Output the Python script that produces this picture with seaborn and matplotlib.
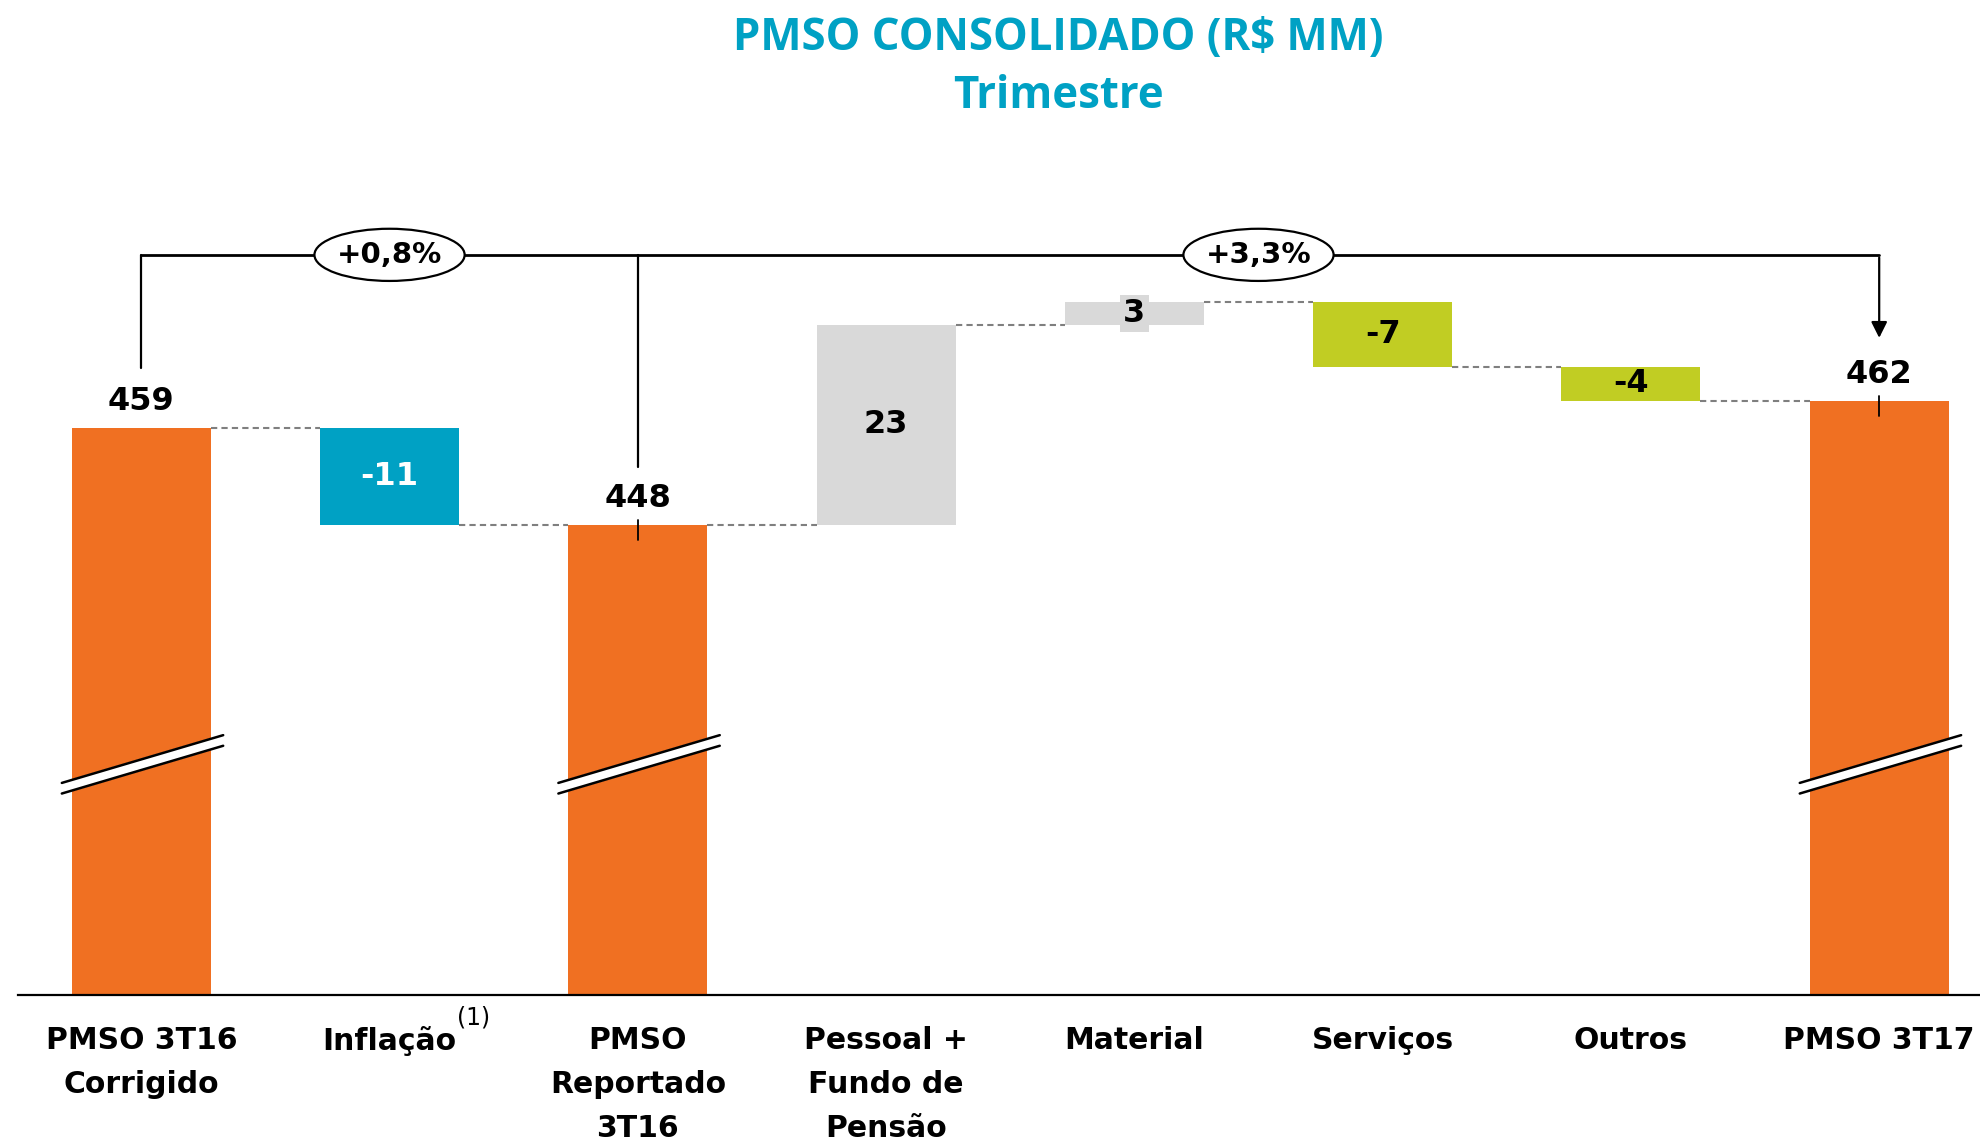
import pandas as pd
import matplotlib.pyplot as plt
import seaborn as sns
from matplotlib.patches import Ellipse

# data
steps = ["PMSO 3T16\nCorrigido", "Inflação", "PMSO\nReportado\n3T16", "Pessoal +\nFundo de\nPensão",
         "Material", "Serviços", "Outros", "PMSO 3T17"]
values = [459.3, -10.9, 448.4, 22.6, 2.6, -7.4, -3.8, 462.4]
is_total = [True, False, True, False, False, False, False, True]
kinds = ["total", "inflacao", "total", "pessoal", "pessoal", "servicos", "servicos", "total"]
value_labels = ["459", "-11", "448", "23", "3", "-7", "-4", "462"]
growth_labels = ["+0,8%", "+3,3%"]

palette = {"total": "#F07022", "inflacao": "#00A1C4", "pessoal": "#D9D9D9", "servicos": "#C1CD23"}

# waterfall levels
tops, bases, levels = [], [], []
level = 0
for v, t in zip(values, is_total):
    if t:
        bases.append(0)
        tops.append(v)
        level = v
    else:
        new = level + v
        bases.append(min(level, new))
        tops.append(max(level, new))
        level = new
    levels.append(level)

df = pd.DataFrame({"step": steps, "top": tops, "base": bases, "kind": kinds})

sns.set_style("white")
plt.rcParams["font.family"] = ["DejaVu Sans"]
plt.rcParams["text.color"] = "black"
plt.rcParams["xtick.color"] = "black"

fig = plt.figure(figsize=(19.8, 11.43), dpi=100)
ax = fig.add_axes([0.0089, 0.1293, 0.9911, 0.705])
w = 0.56

sns.barplot(data=df, x="step", y="top", hue="kind", palette=palette, dodge=False, width=w,
            saturation=1, linewidth=0, legend=False, order=steps, ax=ax)
sns.barplot(data=df, x="step", y="base", color="white", width=w, saturation=1, linewidth=0,
            order=steps, ax=ax)

ax.set_ylim(395.2, 486.3)
ax.set_xlim(-0.498, 7.406)
ax.set_xlabel("")
ax.set_ylabel("")
ax.set_yticks([])
for s in ["left", "right", "top"]:
    ax.spines[s].set_visible(False)
ax.spines["bottom"].set_color("black")
ax.spines["bottom"].set_linewidth(1.6)
ax.tick_params(axis="x", length=0, pad=22)
for lab in ax.get_xticklabels():
    lab.set_fontsize(21.5)
    lab.set_fontweight("bold")
    lab.set_linespacing(1.65)
ax.text(1.27, -0.028, "(1)", transform=ax.get_xaxis_transform(), fontsize=17,
        ha="left", va="center")

# connectors
for i in range(len(values) - 1):
    ax.plot([i + w / 2, i + 1 - w / 2], [levels[i], levels[i]], color="#7f7f7f",
            lw=1.5, ls=(0, (3, 2)))

# value labels
for i, (t, b, lab) in enumerate(zip(tops, bases, value_labels)):
    if is_total[i]:
        ax.text(i, t + 3, lab, ha="center", va="center", fontsize=23, fontweight="bold")
    elif kinds[i] == "inflacao":
        ax.text(i, (t + b) / 2, lab, ha="center", va="center", fontsize=23,
                fontweight="bold", color="white")
    elif kinds[i] == "pessoal" and t - b < 4:
        ax.text(i, (t + b) / 2, lab, ha="center", va="center", fontsize=23, fontweight="bold",
                bbox=dict(boxstyle="square,pad=0.1", fc="#D9D9D9", ec="none"))
    else:
        ax.text(i, (t + b) / 2, lab, ha="center", va="center", fontsize=23, fontweight="bold")

# break marks on total bars
for i in [0, 2, 7]:
    x0, x1 = i - 0.32, i + 0.33
    y0, rise, gap = 419.2, 5.4, 1.2
    ax.fill([x0, x1, x1, x0], [y0, y0 + rise, y0 + rise - gap, y0 - gap], color="white", zorder=3)
    ax.plot([x0, x1], [y0, y0 + rise], color="black", lw=1.8, zorder=4)
    ax.plot([x0, x1], [y0 - gap, y0 + rise - gap], color="black", lw=1.8, zorder=4)

# bracket
y_br = 478.9
ax.plot([0, 7], [y_br, y_br], color="black", lw=2)
ax.plot([0, 0], [y_br, tops[0] + 6.8], color="black", lw=1.6)
ax.plot([2, 2], [y_br, tops[2] + 6.5], color="black", lw=1.6)
ax.annotate("", xy=(7, tops[7] + 6.8), xytext=(7, y_br),
            arrowprops=dict(arrowstyle="-|>", color="black", lw=1.6, mutation_scale=24))
for i in [2, 7]:
    ax.plot([i, i], [tops[i] + 0.5, tops[i] - 1.7], color="black", lw=1.3, zorder=4)

for x, lab in zip([1, 4.5], growth_labels):
    ax.add_patch(Ellipse((x, y_br), 0.605, 5.9, fc="white", ec="black", lw=1.6, zorder=5))
    ax.text(x, y_br, lab, ha="center", va="center", fontsize=21, fontweight="bold", zorder=6)

# title
fig.text(0.5344, 0.966, "PMSO CONSOLIDADO (R$ MM)", ha="center", va="center", fontsize=31.5,
         fontweight="bold", color="#00A1C4", family=["Open Sans", "DejaVu Sans"])
fig.text(0.5344, 0.916, "Trimestre", ha="center", va="center", fontsize=31.5,
         fontweight="bold", color="#00A1C4", family=["Open Sans", "DejaVu Sans"])

fig.savefig("out.png", dpi=100)
